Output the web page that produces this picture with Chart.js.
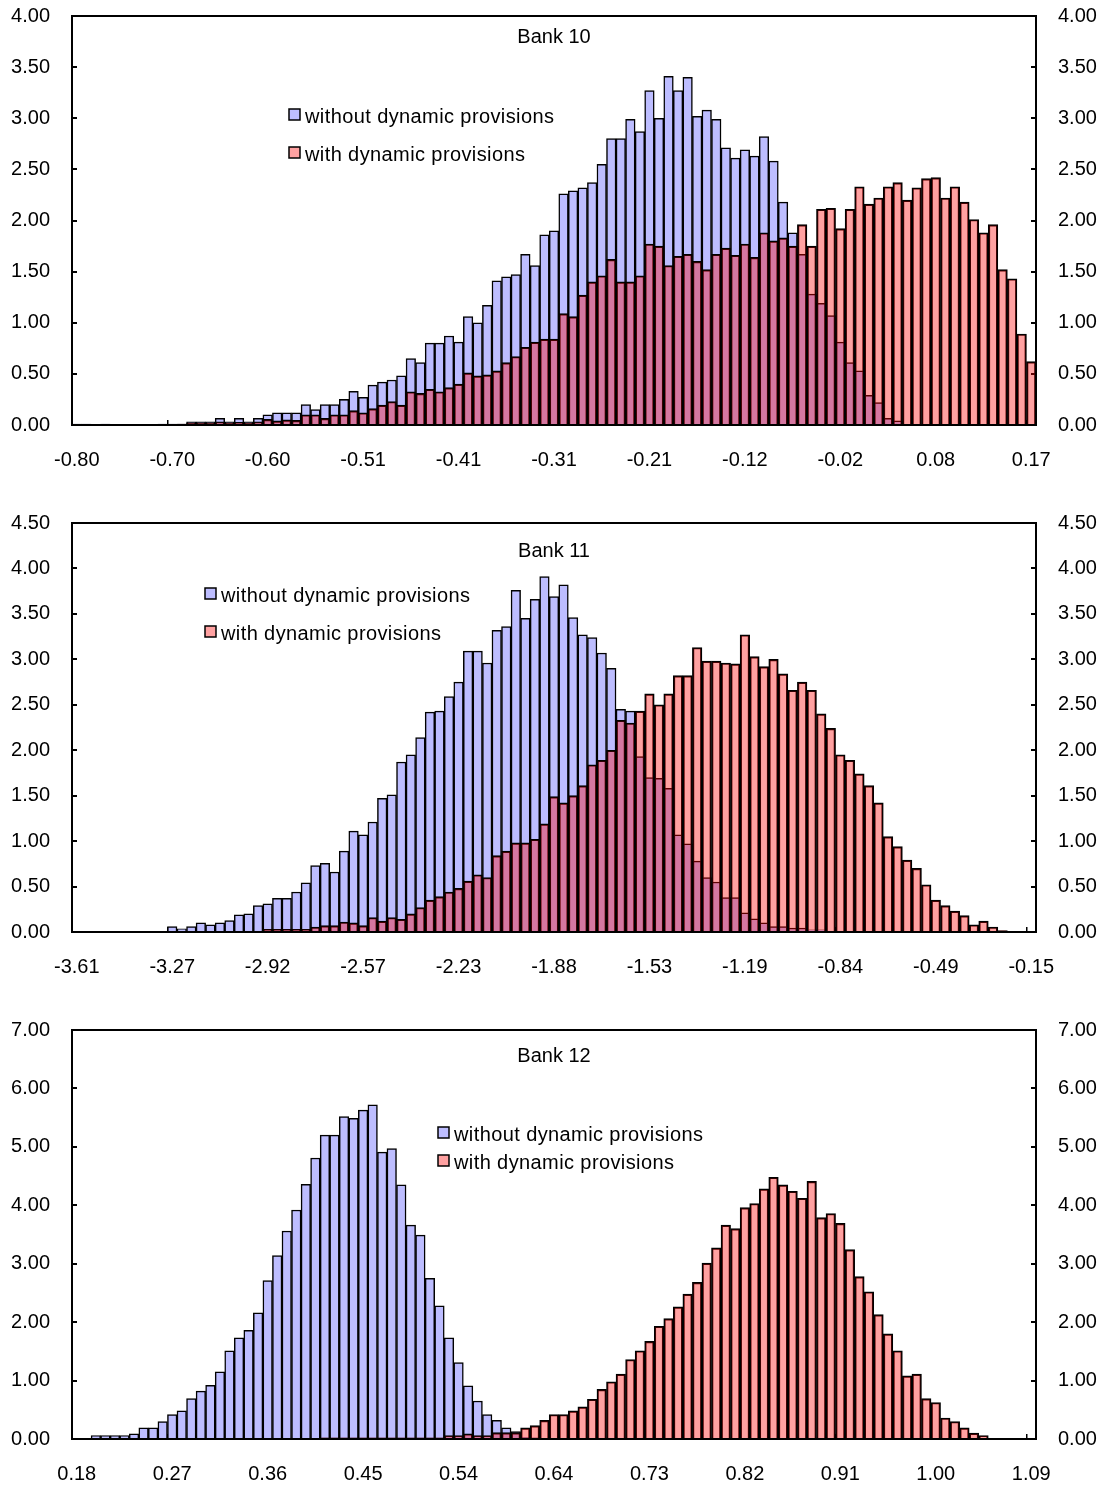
<!DOCTYPE html>
<html>
<head>
<meta charset="utf-8">
<title>Bank 10 - Bank 12</title>
<script src="https://cdn.jsdelivr.net/npm/chart.js@4.4.0/dist/chart.umd.min.js"></script>
<style>
  body { margin: 0; background: #fff; width: 1108px; height: 1489px; position: relative; overflow: hidden; }
  canvas { position: absolute; left: 0; }
</style>
</head>
<body>
<canvas id="bank10_canvas" width="1108" height="498" style="top:-23px"></canvas>
<canvas id="bank11_canvas" width="1108" height="498" style="top:484px"></canvas>
<canvas id="bank12_canvas" width="1108" height="498" style="top:991px"></canvas>
<script>
var series_names = ['without dynamic provisions', 'with dynamic provisions'];

// Bank 10
var bank10_ticks = ['-0.80', '-0.70', '-0.60', '-0.51', '-0.41', '-0.31', '-0.21', '-0.12', '-0.02', '0.08', '0.17'];
var bank10_without = [
    0.01, 0.01, 0, 0.01, 0, 0, 0, 0, 0.005, 0.01,
    0.01, 0.01, 0.03, 0.03, 0.03, 0.065, 0.03, 0.065, 0.03, 0.065,
    0.10, 0.12, 0.12, 0.12, 0.20, 0.15, 0.20, 0.20, 0.25, 0.33,
    0.27, 0.39, 0.42, 0.44, 0.48, 0.65, 0.61, 0.80, 0.80, 0.87,
    0.81, 1.06, 1.00, 1.17, 1.41, 1.45, 1.47, 1.67, 1.56, 1.86,
    1.90, 2.26, 2.29, 2.32, 2.37, 2.55, 2.80, 2.80, 2.99, 2.87,
    3.27, 3.00, 3.41, 3.27, 3.40, 3.02, 3.08, 2.99, 2.71, 2.61,
    2.69, 2.63, 2.82, 2.58, 2.18, 1.88, 1.67, 1.28, 1.19, 1.07,
    0.81, 0.61, 0.53, 0.29, 0.22, 0.065, 0.04, 0, 0, 0,
    0, 0, 0, 0, 0, 0, 0, 0, 0, 0,
    0
];
var bank10_with = [
    0, 0, 0, 0, 0, 0, 0, 0, 0.005, 0.005,
    0.005, 0.01, 0.02, 0.02, 0.02, 0.03, 0.02, 0.025, 0.02, 0.03,
    0.055, 0.04, 0.05, 0.045, 0.10, 0.10, 0.065, 0.10, 0.10, 0.14,
    0.12, 0.16, 0.195, 0.23, 0.195, 0.325, 0.31, 0.35, 0.325, 0.365,
    0.40, 0.51, 0.48, 0.49, 0.53, 0.61, 0.67, 0.76, 0.81, 0.84,
    0.84, 1.09, 1.06, 1.27, 1.40, 1.46, 1.62, 1.40, 1.40, 1.46,
    1.77, 1.75, 1.56, 1.65, 1.67, 1.60, 1.52, 1.67, 1.73, 1.66,
    1.77, 1.64, 1.88, 1.80, 1.83, 1.75, 1.96, 1.75, 2.11, 2.12,
    1.92, 2.11, 2.33, 2.16, 2.22, 2.33, 2.37, 2.20, 2.32, 2.41,
    2.42, 2.22, 2.33, 2.18, 2.01, 1.88, 1.96, 1.52, 1.43, 0.89,
    0.62
];

// Bank 11
var bank11_ticks = ['-3.61', '-3.27', '-2.92', '-2.57', '-2.23', '-1.88', '-1.53', '-1.19', '-0.84', '-0.49', '-0.15'];
var bank11_without = [
    0.01, 0, 0.01, 0.01, 0.01, 0, 0.01, 0.01, 0.01, 0.01,
    0.06, 0.035, 0.06, 0.10, 0.08, 0.10, 0.125, 0.19, 0.20, 0.29,
    0.31, 0.37, 0.37, 0.44, 0.54, 0.73, 0.755, 0.66, 0.89, 1.11,
    1.07, 1.21, 1.47, 1.51, 1.87, 1.95, 2.14, 2.42, 2.43, 2.59,
    2.75, 3.09, 3.09, 2.96, 3.32, 3.36, 3.76, 3.45, 3.66, 3.91,
    3.69, 3.82, 3.46, 3.27, 3.24, 3.07, 2.90, 2.45, 2.43, 1.93,
    1.70, 1.69, 1.58, 1.07, 0.97, 0.78, 0.60, 0.55, 0.38, 0.38,
    0.21, 0.146, 0.10, 0.06, 0.06, 0.044, 0.044, 0.025, 0.025, 0.01,
    0.005, 0.01, 0, 0, 0, 0, 0, 0, 0, 0,
    0, 0, 0, 0, 0, 0, 0, 0, 0, 0,
    0
];
var bank11_with = [
    0, 0, 0, 0, 0, 0, 0, 0, 0, 0,
    0, 0, 0, 0, 0, 0.01, 0.01, 0.01, 0.01, 0.01,
    0.03, 0.03, 0.03, 0.03, 0.03, 0.055, 0.07, 0.07, 0.11, 0.10,
    0.07, 0.16, 0.12, 0.16, 0.14, 0.20, 0.27, 0.35, 0.39, 0.44,
    0.48, 0.56, 0.63, 0.60, 0.84, 0.89, 0.98, 0.98, 1.02, 1.19,
    1.49, 1.42, 1.50, 1.61, 1.84, 1.89, 2.00, 2.33, 2.30, 2.43,
    2.62, 2.50, 2.62, 2.82, 2.82, 3.13, 2.98, 2.98, 2.96, 2.95,
    3.27, 3.03, 2.92, 3.00, 2.84, 2.66, 2.75, 2.66, 2.40, 2.24,
    1.95, 1.89, 1.74, 1.61, 1.42, 1.05, 0.94, 0.79, 0.70, 0.52,
    0.35, 0.29, 0.23, 0.18, 0.08, 0.12, 0.055, 0.015, 0.01, 0.01,
    0.01
];

// Bank 12
var bank12_ticks = ['0.18', '0.27', '0.36', '0.45', '0.54', '0.64', '0.73', '0.82', '0.91', '1.00', '1.09'];
var bank12_without = [
    0.005, 0.005, 0.06, 0.06, 0.06, 0.06, 0.09, 0.19, 0.19, 0.30,
    0.42, 0.48, 0.69, 0.82, 0.92, 1.15, 1.51, 1.73, 1.86, 2.16,
    2.71, 3.14, 3.56, 3.92, 4.36, 4.81, 5.20, 5.20, 5.52, 5.49,
    5.63, 5.72, 4.91, 4.97, 4.35, 3.66, 3.49, 2.75, 2.28, 1.73,
    1.31, 0.91, 0.65, 0.42, 0.32, 0.19, 0.125, 0.03, 0.02, 0.01,
    0.01, 0.01, 0.005, 0, 0, 0, 0, 0, 0, 0,
    0, 0, 0, 0, 0, 0, 0, 0, 0, 0,
    0, 0, 0, 0, 0, 0, 0, 0, 0, 0,
    0, 0, 0, 0, 0, 0, 0, 0, 0, 0,
    0, 0, 0, 0, 0, 0, 0, 0, 0, 0,
    0
];
var bank12_with = [
    0, 0, 0, 0, 0, 0, 0, 0, 0, 0,
    0, 0, 0, 0, 0, 0, 0, 0, 0, 0,
    0, 0, 0, 0, 0, 0, 0.02, 0.02, 0.02, 0.02,
    0.02, 0.02, 0.02, 0.02, 0.02, 0.02, 0.02, 0.02, 0.02, 0.06,
    0.06, 0.09, 0.06, 0.06, 0.11, 0.11, 0.11, 0.19, 0.23, 0.32,
    0.42, 0.42, 0.48, 0.55, 0.68, 0.85, 0.98, 1.11, 1.36, 1.51,
    1.67, 1.93, 2.06, 2.26, 2.48, 2.68, 3.01, 3.27, 3.66, 3.60,
    3.96, 4.03, 4.28, 4.48, 4.35, 4.24, 4.12, 4.41, 3.79, 3.86,
    3.69, 3.24, 2.78, 2.52, 2.13, 1.80, 1.51, 1.08, 1.11, 0.69,
    0.625, 0.36, 0.30, 0.19, 0.10, 0.06, 0.01, 0.01, 0.01, 0.01,
    0.01
];

var font_family = '"Liberation Sans", Arial, sans-serif';
var blue_fill = '#BDBDFF';
var red_fill = 'rgba(255, 0, 0, 0.37)';

Chart.defaults.font.family = font_family;
Chart.defaults.font.size = 20;
Chart.defaults.color = '#000';

// one label per bin, only every 10th bin carries a tick label
function make_labels(ticks){
    var labels = [];
    var n = (ticks.length - 1) * 10 + 1;
    for(var i = 0; i < n; i++){
        labels.push(i % 10 === 0 ? ticks[i / 10] : '');
    }
    return labels;
}

// frame, title and legend drawn inside the plot area
var panel_text_plugin = {
    id: 'panel_text',
    afterDatasetsDraw: function(chart, args, opts){
        var ctx = chart.ctx;
        var a = chart.chartArea;
        ctx.save();
        ctx.strokeStyle = '#000';
        ctx.lineWidth = 2;
        ctx.strokeRect(a.left, a.top, a.right - a.left, a.bottom - a.top);

        ctx.font = '20px ' + font_family;
        ctx.fillStyle = '#000';
        ctx.textAlign = 'center';
        ctx.textBaseline = 'middle';
        ctx.fillText(opts.title, (a.left + a.right) / 2, a.top + opts.title_dy);

        ctx.textAlign = 'left';
        if('letterSpacing' in ctx){ ctx.letterSpacing = '0.4px'; }
        chart.data.datasets.forEach(function(ds, k){
            var y = a.top + opts.legend_dy[k];
            var x = opts.legend_x;
            ctx.fillStyle = '#fff';
            ctx.fillRect(x, y - 8, 11, 11);
            ctx.fillStyle = ds.backgroundColor;
            ctx.fillRect(x, y - 8, 11, 11);
            ctx.lineWidth = 1.5;
            ctx.strokeRect(x, y - 8, 11, 11);
            ctx.fillStyle = '#000';
            ctx.fillText(ds.label, x + 16, y);
        });
        ctx.restore();
    }
};

function y_axis(position, max, step){
    return {
        type: 'linear',
        position: position,
        min: 0,
        max: max,
        border: { display: false },
        grid: { drawOnChartArea: false, drawTicks: true, tickLength: -5, color: '#000', lineWidth: 2 },
        ticks: {
            stepSize: step,
            padding: 27,
            callback: function(v){ return v.toFixed(2); }
        },
        afterFit: function(scale){ scale.width = 72; }
    };
}

function draw_panel(canvas_id, title, ticks, without_vals, with_vals, y_max, y_step, text_pos){
    new Chart(document.getElementById(canvas_id), {
        type: 'bar',
        data: {
            labels: make_labels(ticks),
            datasets: [{
                label: series_names[0],
                data: without_vals,
                backgroundColor: blue_fill,
                borderColor: '#000',
                borderWidth: 1.5,
                yAxisID: 'y',
                order: 2,
                barPercentage: 1,
                categoryPercentage: 1
            }, {
                label: series_names[1],
                data: with_vals,
                backgroundColor: red_fill,
                borderColor: '#000',
                borderWidth: 1.5,
                yAxisID: 'y',
                order: 1,
                barPercentage: 1,
                categoryPercentage: 1
            }]
        },
        options: {
            responsive: false,
            animation: false,
            events: [],
            layout: { padding: { top: 15, bottom: 0, left: 0, right: 0 } },
            plugins: {
                legend: { display: false },
                tooltip: { enabled: false },
                panel_text: {
                    title: title,
                    title_dy: text_pos.title_dy,
                    legend_x: text_pos.legend_x,
                    legend_dy: text_pos.legend_dy
                }
            },
            scales: {
                x: {
                    type: 'category',
                    stacked: true,
                    border: { display: false },
                    grid: {
                        offset: true,
                        drawOnChartArea: false,
                        drawTicks: true,
                        tickLength: -5,
                        lineWidth: 1.5,
                        color: function(c){ return (c.index % 10 === 0) ? '#000' : 'rgba(0,0,0,0)'; }
                    },
                    ticks: { autoSkip: false, maxRotation: 0, minRotation: 0, padding: 28 },
                    afterFit: function(scale){ scale.height = 50; }
                },
                y: y_axis('left', y_max, y_step),
                y2: y_axis('right', y_max, y_step)
            }
        },
        plugins: [panel_text_plugin]
    });
}

draw_panel('bank10_canvas', 'Bank 10', bank10_ticks, bank10_without, bank10_with, 4, 0.5,
    { title_dy: 21, legend_x: 289, legend_dy: [101, 139] });
draw_panel('bank11_canvas', 'Bank 11', bank11_ticks, bank11_without, bank11_with, 4.5, 0.5,
    { title_dy: 28, legend_x: 205, legend_dy: [73, 111] });
draw_panel('bank12_canvas', 'Bank 12', bank12_ticks, bank12_without, bank12_with, 7, 1,
    { title_dy: 26, legend_x: 438, legend_dy: [105, 133] });
</script>
</body>
</html>
